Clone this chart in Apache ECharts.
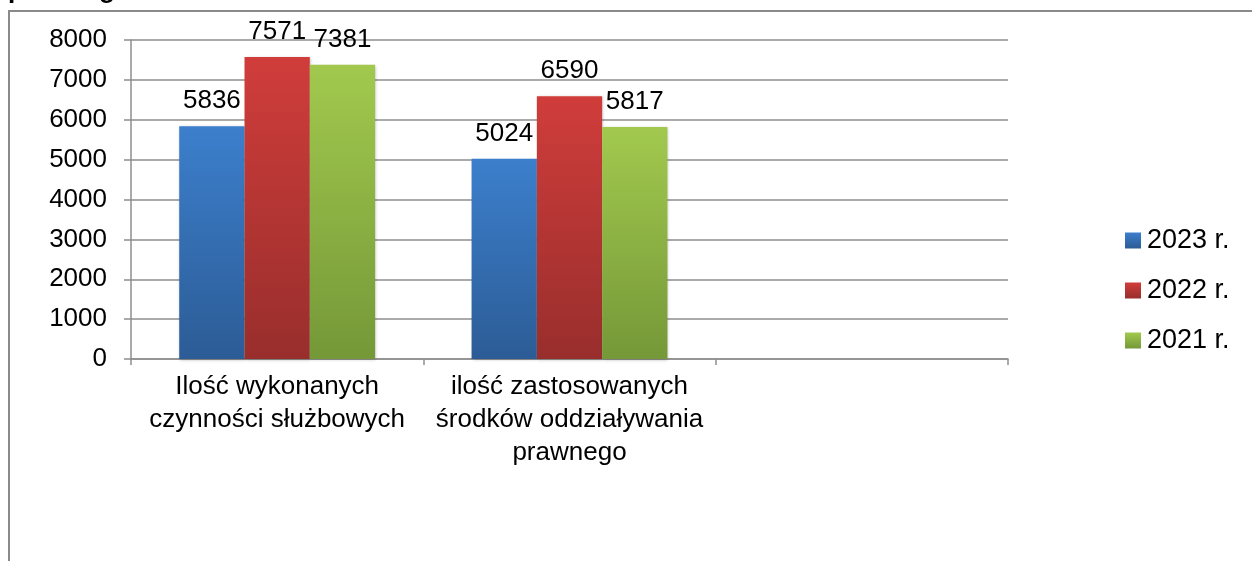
<!DOCTYPE html>
<html>
<head>
<meta charset="utf-8">
<script src="https://cdn.jsdelivr.net/npm/echarts@6/dist/echarts.min.js"></script>
<style>
  html, body { margin: 0; padding: 0; background: #fff; }
  #chart { width: 1252px; height: 561px; }
</style>
</head>
<body>
<div id="chart"></div>
<script>
const categories = [
  "Ilość wykonanych\nczynności służbowych",
  "ilość zastosowanych\nśrodków oddziaływania\nprawnego",
  ""
];
const seriesNames = ["2023 r.", "2022 r.", "2021 r."];
const values2023 = [5836, 5024, null];
const values2022 = [7571, 6590, null];
const values2021 = [7381, 5817, null];
const yTicks = [0, 1000, 2000, 3000, 4000, 5000, 6000, 7000, 8000];

const font = "Liberation Sans, Arial, sans-serif";
const gridColor = "#8e8e8e";
const fs = 26;

function grad(top, bottom) {
  return new echarts.graphic.LinearGradient(0, 0, 0, 1, [
    { offset: 0, color: top },
    { offset: 1, color: bottom }
  ]);
}
const fills = [
  grad("#3c7fcc", "#2c5c96"),
  grad("#d03d3b", "#982e2c"),
  grad("#a2c94e", "#759838")
];

function makeSeries(name, data, i) {
  return {
    name: name,
    type: "bar",
    data: data,
    barGap: "0%",
    barCategoryGap: "33%",
    itemStyle: {
      color: fills[i],
      shadowColor: "rgba(0,0,0,0.25)",
      shadowBlur: 3,
      shadowOffsetX: 1,
      shadowOffsetY: 1
    },
    label: {
      show: true,
      position: "top",
      distance: 12,
      color: "#000",
      fontSize: fs,
      fontFamily: font
    }
  };
}

const chart = echarts.init(document.getElementById("chart"));
chart.setOption({
  backgroundColor: "#fff",
  animation: false,
  textStyle: { fontFamily: font },
  graphic: [
    {
      type: "polyline",
      shape: { points: [[9, 561], [9, 11], [1252, 11]] },
      style: { stroke: "#8a8a8a", lineWidth: 2, fill: null }
    },
    {
      type: "text",
      x: 8,
      y: 4,
      style: {
        text: "prawnego",
        font: "bold 26px " + font,
        fill: "#000",
        verticalAlign: "bottom"
      }
    }
  ],
  legend: {
    orient: "vertical",
    left: 1120,
    top: 222,
    icon: "rect",
    itemWidth: 16,
    itemHeight: 16,
    itemGap: 23,
    textStyle: {
      fontSize: 27,
      lineHeight: 26,
      color: "#000",
      fontFamily: font,
      padding: [0, 0, 0, 1]
    },
    data: seriesNames
  },
  grid: { left: 131, right: 244, top: 40, bottom: 202, containLabel: false },
  xAxis: {
    type: "category",
    data: categories,
    axisLine: { lineStyle: { color: gridColor, width: 1.5 } },
    axisTick: { show: true, length: 6, lineStyle: { color: gridColor, width: 1.5 } },
    axisLabel: {
      color: "#000",
      fontSize: fs,
      lineHeight: 33,
      margin: 11,
      interval: 0,
      fontFamily: font
    }
  },
  yAxis: {
    type: "value",
    min: 0,
    max: 8000,
    interval: 1000,
    axisLine: { show: true, lineStyle: { color: gridColor, width: 1.5 } },
    axisTick: { show: true, length: 7, lineStyle: { color: gridColor, width: 1.5 } },
    splitLine: { lineStyle: { color: gridColor, width: 1.5 } },
    axisLabel: {
      color: "#000",
      fontSize: fs,
      margin: 24,
      fontFamily: font,
      formatter: function (v) { return yTicks.indexOf(v) >= 0 ? String(v) : ""; }
    }
  },
  series: [
    makeSeries(seriesNames[0], values2023, 0),
    makeSeries(seriesNames[1], values2022, 1),
    makeSeries(seriesNames[2], values2021, 2)
  ]
});
</script>
</body>
</html>
